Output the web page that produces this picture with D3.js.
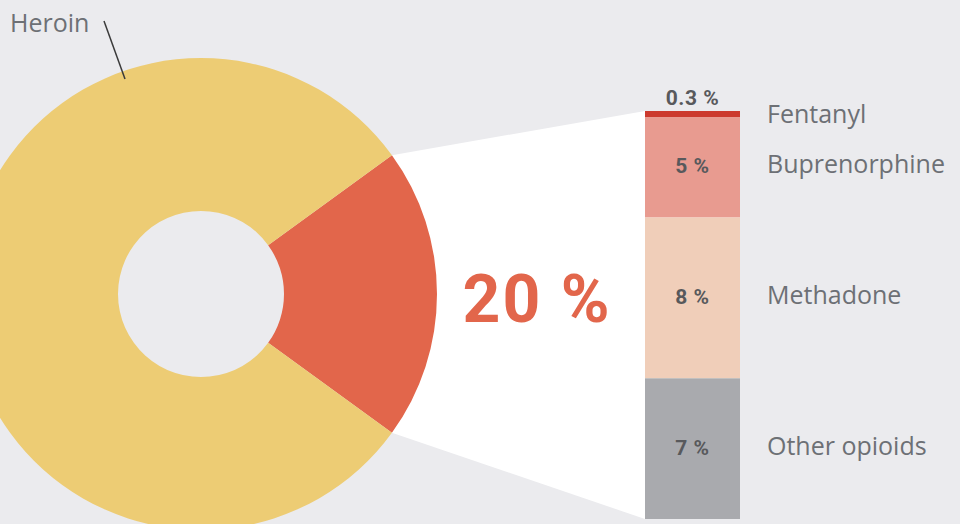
<!DOCTYPE html>
<html>
<head>
<meta charset="utf-8">
<script src="https://cdn.jsdelivr.net/npm/d3@7"></script>
<style>
  html, body { margin: 0; padding: 0; background: #ebebee; }
  svg { display: block; }
  .label { font-family: "Open Sans", "Noto Sans", sans-serif; fill: #6d7075; }
  .pct { font-family: Roboto, "Noto Sans", sans-serif; font-weight: 700; fill: #58595c; }
</style>
</head>
<body>
<div id="chart"></div>
<script>
// donut: heroin vs all other opioids
const pieCategories = ['Other', 'Heroin'];
const pieValues = [20, 80];
const pieColors = ['#e2664b', '#edcc74'];

// breakdown of the 20 %
const barCategories = ['Fentanyl', 'Buprenorphine', 'Methadone', 'Other opioids'];
const barValues = [0.3, 5, 8, 7];
const barLabels = ['0.3 %', '5 %', '8 %', '7 %'];
const barColors = ['#cc3a2e', '#e89b90', '#f0ceb9', '#a9aaae'];

const width = 960, height = 524;
const cx = 201, cy = 294, outerR = 236, innerR = 83;
const bar = { x0: 645, x1: 740, top: 111, bottom: 519 };

const svg = d3.select('#chart')
  .append('svg')
  .attr('width', width)
  .attr('height', height);

svg.append('rect')
  .attr('width', width)
  .attr('height', height)
  .attr('fill', '#ebebee');

// pie, red slice centred on the right side
const share = pieValues[0] / d3.sum(pieValues);
const start = Math.PI / 2 - share * Math.PI;
const pie = d3.pie().sort(null).value(d => d)
  .startAngle(start).endAngle(start + 2 * Math.PI);
const arcs = pie(pieValues);
const arc = d3.arc().innerRadius(innerR).outerRadius(outerR);

// scale for the stacked bar
const y = d3.scaleLinear()
  .domain([0, d3.sum(barValues)])
  .range([bar.top, bar.bottom]);

// white connector from slice to bar
const pt = a => [cx + outerR * Math.sin(a), cy - outerR * Math.cos(a)];
const red = arcs[0];
const p1 = pt(red.startAngle), p2 = pt(red.endAngle);
svg.append('path')
  .attr('d', d3.line()([p1, [bar.x0, y(0)], [bar.x1, y(0)], [bar.x1, y(d3.sum(barValues))], [bar.x0, y(d3.sum(barValues))], p2]) + 'Z')
  .attr('fill', '#ffffff');

const g = svg.append('g').attr('transform', `translate(${cx},${cy})`);
g.selectAll('path')
  .data(arcs)
  .enter()
  .append('path')
  .attr('d', arc)
  .attr('fill', (d, i) => pieColors[i]);

// Heroin label + leader
svg.append('line')
  .attr('x1', 104).attr('y1', 21)
  .attr('x2', 125).attr('y2', 79)
  .attr('stroke', '#3a3a3a')
  .attr('stroke-width', 1.5);
svg.append('text')
  .attr('class', 'label')
  .attr('x', 10).attr('y', 32)
  .style('font-size', '25px')
  .text(pieCategories[1]);

svg.append('text')
  .attr('x', 537).attr('y', 322)
  .attr('text-anchor', 'middle')
  .style('font-family', 'Roboto, "Noto Sans", sans-serif')
  .style('font-weight', 700)
  .style('font-size', '66px')
  .style('letter-spacing', '2px')
  .attr('fill', '#e2664b')
  .text(pieValues[0] + ' %');

// stacked bar
const stack = [];
let acc = 0;
barValues.forEach((v, i) => { stack.push({ i, y0: acc, y1: acc + v }); acc += v; });

svg.selectAll('rect.seg')
  .data(stack)
  .enter()
  .append('rect')
  .attr('class', 'seg')
  .attr('x', bar.x0)
  .attr('width', bar.x1 - bar.x0)
  .attr('y', d => y(d.y0))
  .attr('height', d => y(d.y1) - y(d.y0))
  .attr('fill', d => barColors[d.i]);

// percentages (first one sits above the thin line)
svg.selectAll('text.pct')
  .data(stack)
  .enter()
  .append('text')
  .attr('class', 'pct')
  .attr('x', (bar.x0 + bar.x1) / 2)
  .attr('y', d => d.i === 0 ? y(d.y0) - 6 : (y(d.y0) + y(d.y1)) / 2 + 6)
  .attr('text-anchor', 'middle')
  .style('font-size', '21px')
  .style('letter-spacing', '0.5px')
  .text(d => barLabels[d.i]);

svg.selectAll('text.cat')
  .data(stack)
  .enter()
  .append('text')
  .attr('class', 'label')
  .attr('x', 767)
  .attr('y', d => d.i === 0 ? y(d.y0) + 12 : (y(d.y0) + y(d.y1)) / 2 + 6)
  .style('font-size', '25px')
  .text(d => barCategories[d.i]);
</script>
</body>
</html>
